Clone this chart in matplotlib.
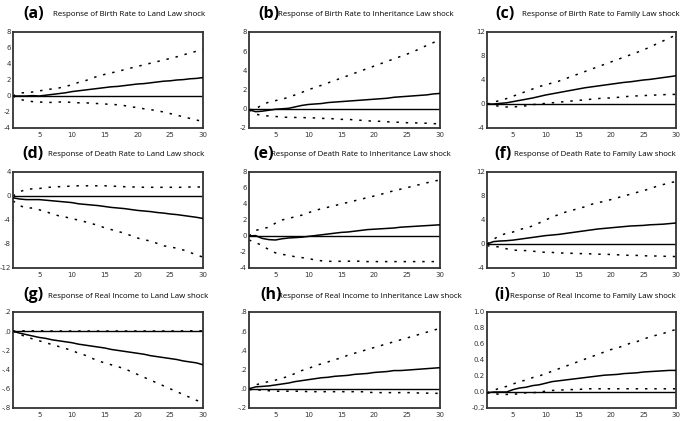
import matplotlib
matplotlib.use("Agg")
import matplotlib.pyplot as plt
import numpy as np

periods = list(range(1, 31))

# (a) Birth Rate <- Land Law
a_resp = [0,0,0,0.05,0,0.1,0.2,0.3,0.4,0.55,0.65,0.75,0.85,0.95,1.05,1.15,1.2,1.3,1.4,1.5,1.55,1.65,1.75,1.85,1.9,2.0,2.05,2.15,2.2,2.3]
a_up = [0,0.4,0.4,0.5,0.65,0.75,0.9,1.0,1.2,1.4,1.7,1.9,2.2,2.5,2.7,2.9,3.05,3.3,3.5,3.7,3.9,4.1,4.3,4.5,4.7,4.9,5.15,5.35,5.6,5.8]
a_lo = [0,-0.4,-0.6,-0.7,-0.75,-0.8,-0.8,-0.75,-0.75,-0.8,-0.85,-0.85,-0.9,-0.95,-1.0,-1.05,-1.1,-1.2,-1.35,-1.45,-1.6,-1.7,-1.85,-2.0,-2.2,-2.4,-2.6,-2.8,-3.0,-3.2]

# (b) Birth Rate <- Inheritance Law
b_resp = [-0.1,-0.3,-0.25,-0.15,-0.05,0,0.05,0.2,0.35,0.45,0.5,0.55,0.65,0.7,0.75,0.8,0.85,0.9,0.95,1.0,1.05,1.1,1.2,1.25,1.3,1.35,1.4,1.45,1.55,1.6]
b_up = [-0.1,0.0,0.4,0.7,0.85,1.0,1.2,1.45,1.7,2.0,2.2,2.45,2.7,2.95,3.2,3.45,3.7,3.95,4.2,4.45,4.7,4.95,5.2,5.45,5.7,5.95,6.3,6.6,6.9,7.2]
b_lo = [-0.1,-0.55,-0.7,-0.75,-0.8,-0.85,-0.9,-0.9,-0.9,-0.95,-0.95,-1.0,-1.0,-1.05,-1.1,-1.1,-1.15,-1.2,-1.25,-1.3,-1.3,-1.35,-1.4,-1.4,-1.45,-1.45,-1.5,-1.5,-1.55,-1.55]

# (c) Birth Rate <- Family Law
c_resp = [0,0,0.1,0.2,0.4,0.6,0.8,1.0,1.25,1.5,1.7,1.9,2.1,2.3,2.5,2.7,2.85,3.0,3.15,3.3,3.45,3.6,3.7,3.85,4.0,4.1,4.25,4.4,4.55,4.7]
c_up = [0,0.3,0.6,0.9,1.3,1.7,2.1,2.5,2.9,3.2,3.5,3.8,4.2,4.6,5.0,5.4,5.8,6.2,6.6,7.0,7.4,7.8,8.2,8.6,9.0,9.5,10.0,10.5,11.0,11.5]
c_lo = [0,-0.2,-0.4,-0.5,-0.5,-0.4,-0.3,-0.1,0.0,0.1,0.2,0.3,0.4,0.5,0.6,0.7,0.8,0.9,1.0,1.0,1.1,1.2,1.3,1.35,1.4,1.45,1.5,1.55,1.6,1.6]

# (d) Death Rate <- Land Law
d_resp = [-0.3,-0.5,-0.6,-0.6,-0.6,-0.7,-0.8,-0.9,-1.0,-1.1,-1.3,-1.4,-1.5,-1.6,-1.75,-1.9,-2.0,-2.1,-2.25,-2.4,-2.5,-2.6,-2.75,-2.85,-3.0,-3.1,-3.25,-3.4,-3.55,-3.75]
d_up = [0,0.7,1.1,1.2,1.25,1.4,1.5,1.55,1.6,1.65,1.7,1.7,1.7,1.7,1.7,1.65,1.6,1.55,1.5,1.5,1.45,1.45,1.45,1.45,1.45,1.45,1.45,1.5,1.5,1.5]
d_lo = [-0.8,-1.6,-2.0,-2.0,-2.3,-2.6,-3.0,-3.3,-3.5,-3.8,-4.0,-4.3,-4.6,-4.9,-5.3,-5.6,-5.9,-6.2,-6.6,-7.0,-7.3,-7.5,-7.9,-8.3,-8.5,-8.7,-9.0,-9.4,-9.8,-10.2]

# (e) Death Rate <- Inheritance Law
e_resp = [0,0.05,-0.3,-0.45,-0.5,-0.35,-0.25,-0.2,-0.15,-0.05,0.05,0.15,0.25,0.35,0.45,0.5,0.6,0.7,0.8,0.85,0.9,0.95,1.0,1.1,1.15,1.2,1.25,1.3,1.35,1.4]
e_up = [0,0.7,0.9,1.1,1.6,2.0,2.2,2.4,2.6,2.9,3.2,3.4,3.6,3.8,4.0,4.2,4.4,4.6,4.8,5.0,5.2,5.45,5.65,5.85,6.05,6.25,6.45,6.65,6.85,7.0]
e_lo = [-0.5,-0.8,-1.2,-1.7,-2.1,-2.3,-2.4,-2.6,-2.7,-2.8,-3.0,-3.1,-3.15,-3.2,-3.15,-3.15,-3.15,-3.15,-3.2,-3.2,-3.2,-3.2,-3.2,-3.2,-3.2,-3.2,-3.2,-3.2,-3.2,-3.2]

# (f) Death Rate <- Family Law
f_resp = [0,0.4,0.5,0.55,0.65,0.8,0.95,1.1,1.25,1.4,1.5,1.6,1.75,1.9,2.05,2.2,2.35,2.5,2.6,2.7,2.8,2.9,3.0,3.05,3.1,3.2,3.25,3.3,3.4,3.5]
f_up = [0,0.8,1.4,1.8,2.0,2.4,2.7,3.0,3.5,4.0,4.5,4.9,5.3,5.6,5.9,6.2,6.6,6.9,7.1,7.4,7.7,8.0,8.3,8.6,8.9,9.2,9.6,9.9,10.2,10.4]
f_lo = [-0.3,-0.4,-0.5,-0.8,-1.0,-1.1,-1.1,-1.2,-1.3,-1.4,-1.4,-1.5,-1.5,-1.55,-1.6,-1.6,-1.65,-1.7,-1.7,-1.75,-1.8,-1.85,-1.9,-1.9,-1.95,-2.0,-2.0,-2.05,-2.05,-2.1]

# (g) Real Income <- Land Law
g_resp = [0,-0.02,-0.035,-0.05,-0.065,-0.075,-0.09,-0.1,-0.11,-0.12,-0.135,-0.145,-0.155,-0.165,-0.175,-0.19,-0.2,-0.21,-0.22,-0.23,-0.24,-0.255,-0.265,-0.275,-0.285,-0.295,-0.31,-0.32,-0.33,-0.35]
g_up = [0,0.004,0.004,0.004,0.004,0.003,0.002,0.002,0.002,0.002,0.002,0.002,0.002,0.002,0.002,0.002,0.002,0.002,0.002,0.002,0.002,0.002,0.002,0.002,0.002,0.003,0.003,0.004,0.004,0.004]
g_lo = [0,-0.03,-0.06,-0.08,-0.1,-0.12,-0.14,-0.16,-0.18,-0.2,-0.23,-0.25,-0.28,-0.31,-0.33,-0.35,-0.37,-0.39,-0.42,-0.45,-0.48,-0.51,-0.54,-0.57,-0.6,-0.63,-0.66,-0.69,-0.72,-0.74]

# (h) Real Income <- Inheritance Law
h_resp = [0,0.02,0.025,0.03,0.04,0.05,0.06,0.075,0.085,0.095,0.105,0.115,0.12,0.13,0.135,0.14,0.15,0.155,0.16,0.17,0.175,0.18,0.19,0.19,0.195,0.2,0.205,0.21,0.215,0.22]
h_up = [-0.01,0.04,0.06,0.075,0.09,0.11,0.13,0.16,0.19,0.21,0.24,0.26,0.28,0.305,0.32,0.35,0.37,0.39,0.41,0.43,0.45,0.47,0.49,0.51,0.53,0.55,0.57,0.59,0.61,0.63]
h_lo = [-0.01,-0.01,-0.015,-0.02,-0.025,-0.025,-0.025,-0.025,-0.025,-0.03,-0.03,-0.03,-0.03,-0.03,-0.03,-0.03,-0.03,-0.03,-0.035,-0.04,-0.04,-0.04,-0.04,-0.04,-0.04,-0.04,-0.045,-0.045,-0.045,-0.05]

# (i) Real Income <- Family Law
i_resp = [-0.01,0.0,0.0,0.0,0.03,0.05,0.06,0.08,0.09,0.11,0.13,0.14,0.15,0.16,0.17,0.18,0.19,0.2,0.21,0.215,0.22,0.23,0.235,0.24,0.25,0.255,0.26,0.265,0.27,0.27]
i_up = [-0.01,0.02,0.05,0.07,0.1,0.13,0.15,0.18,0.2,0.23,0.26,0.29,0.32,0.35,0.38,0.41,0.44,0.47,0.5,0.53,0.55,0.58,0.61,0.63,0.66,0.69,0.71,0.73,0.76,0.78]
i_lo = [-0.01,-0.02,-0.03,-0.03,-0.03,-0.02,-0.01,-0.01,0.0,0.01,0.02,0.02,0.03,0.03,0.03,0.04,0.04,0.04,0.04,0.04,0.04,0.04,0.04,0.04,0.04,0.04,0.04,0.04,0.04,0.04]

labels = ["(a)", "(b)", "(c)", "(d)", "(e)", "(f)", "(g)", "(h)", "(i)"]
titles = [
    "Response of Birth Rate to Land Law shock",
    "Response of Birth Rate to Inheritance Law shock",
    "Response of Birth Rate to Family Law shock",
    "Response of Death Rate to Land Law shock",
    "Response of Death Rate to Inheritance Law shock",
    "Response of Death Rate to Family Law shock",
    "Response of Real Income to Land Law shock",
    "Response of Real Income to Inheritance Law shock",
    "Response of Real Income to Family Law shock",
]
series = [
    (a_resp, a_up, a_lo), (b_resp, b_up, b_lo), (c_resp, c_up, c_lo),
    (d_resp, d_up, d_lo), (e_resp, e_up, e_lo), (f_resp, f_up, f_lo),
    (g_resp, g_up, g_lo), (h_resp, h_up, h_lo), (i_resp, i_up, i_lo),
]
yticks = [
    [-4, -2, 0, 2, 4, 6, 8], [-2, 0, 2, 4, 6, 8], [-4, 0, 4, 8, 12],
    [-12, -8, -4, 0, 4], [-4, -2, 0, 2, 4, 6, 8], [-4, 0, 4, 8, 12],
    [-0.8, -0.6, -0.4, -0.2, 0.0, 0.2], [-0.2, 0.0, 0.2, 0.4, 0.6, 0.8],
    [-0.2, 0.0, 0.2, 0.4, 0.6, 0.8, 1.0],
]
yticklabels = [
    ["-4", "-2", "0", "2", "4", "6", "8"], ["-2", "0", "2", "4", "6", "8"],
    ["-4", "0", "4", "8", "12"], ["-12", "-8", "-4", "0", "4"],
    ["-4", "-2", "0", "2", "4", "6", "8"], ["-4", "0", "4", "8", "12"],
    ["-.8", "-.6", "-.4", "-.2", ".0", ".2"], ["-.2", ".0", ".2", ".4", ".6", ".8"],
    ["-0.2", "0.0", "0.2", "0.4", "0.6", "0.8", "1.0"],
]
xticks = [5, 10, 15, 20, 25, 30]

W, H = 685, 421
fig = plt.figure(figsize=(W / 100, H / 100), dpi=100)
fig.patch.set_facecolor("white")

col_x = [(13, 203), (249, 440), (487, 676)]
row_y = [(32, 128), (172, 268), (312, 408)]
label_x = [[23, 258, 495], [22, 253, 494], [23, 260, 494]]
text_x = [[53, 278, 522], [48, 271, 514], [48, 278, 510]]
title_y = [14, 154, 295]

for k in range(9):
    r, c = divmod(k, 3)
    x0, x1 = col_x[c]
    yt, yb = row_y[r]
    ax = fig.add_axes([x0 / W, 1 - yb / H, (x1 - x0) / W, (yb - yt) / H])
    resp, up, lo = series[k]
    ax.axhline(0, color="black", lw=1.0, zorder=1)
    ax.plot(periods, resp, color="black", lw=1.1, zorder=3)
    ax.plot(periods, up, color="black", lw=1.1, linestyle=(0, (1.6, 4.5)), zorder=2)
    ax.plot(periods, lo, color="black", lw=1.1, linestyle=(0, (1.6, 4.5)), zorder=2)
    ax.set_xlim(1, 30)
    ax.set_ylim(yticks[k][0], yticks[k][-1])
    ax.set_xticks(xticks)
    ax.set_xticklabels([str(t) for t in xticks])
    ax.set_yticks(yticks[k])
    ax.set_yticklabels(yticklabels[k])
    ax.tick_params(axis="x", length=0, labelsize=5, colors="#333333", pad=3)
    ax.tick_params(axis="y", length=0, labelsize=5, colors="#333333", pad=1.5)
    for s in ax.spines.values():
        s.set_linewidth(1.3)
        s.set_color("#333333")
    fig.text(label_x[r][c] / W, 1 - title_y[r] / H, labels[k], fontsize=11.5,
             fontweight="bold", ha="left", va="center", family="Open Sans")
    fig.text(text_x[r][c] / W, 1 - (title_y[r] + 1) / H, titles[k], fontsize=5.7,
             ha="left", va="center", family="Open Sans")

fig.savefig("out.png", dpi=100, facecolor="white")
